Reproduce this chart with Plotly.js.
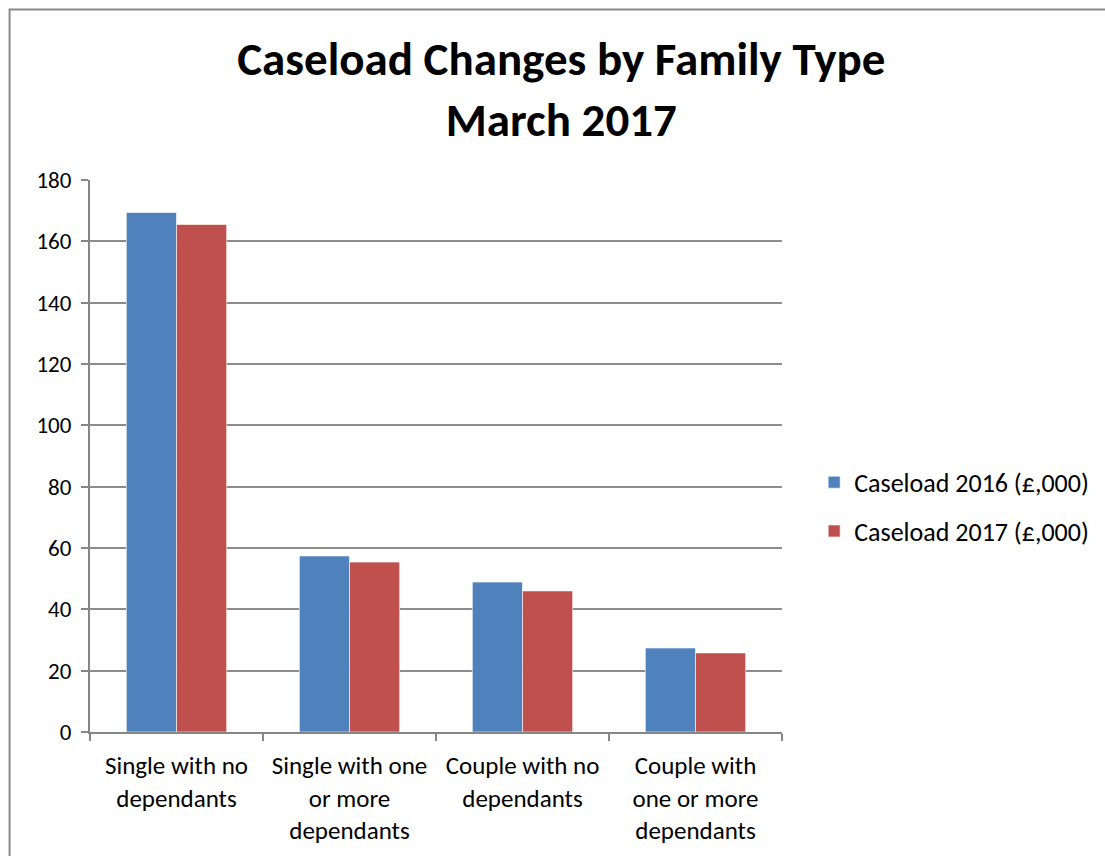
<!DOCTYPE html>
<html>
<head>
<meta charset="utf-8">
<script src="https://cdn.plot.ly/plotly-3.0.1.min.js"></script>
<style>html,body{margin:0;padding:0;background:#fff;}</style>
</head>
<body>
<div id="chart" style="width:1105px;height:856px;"></div>
<script>
const categories = [
  "Single with no<br>dependants",
  "Single with one<br>or more<br>dependants",
  "Couple with no<br>dependants",
  "Couple with<br>one or more<br>dependants"
];
const seriesNames = ["Caseload 2016 (£,000)", "Caseload 2017 (£,000)"];
const caseload2016 = [169.4, 57.4, 48.9, 27.4];
const caseload2017 = [165.5, 55.4, 46.0, 25.8];
const yTicks = [0, 20, 40, 60, 80, 100, 120, 140, 160, 180];

const FONT = "Carlito, Calibri, Lato, 'Open Sans', sans-serif";

const traces = [
  {type: "bar", name: seriesNames[0], x: categories, y: caseload2016, legendgroup: "a",
   marker: {color: "#4F81BD", line: {color: "rgba(255,255,255,0.6)", width: 1}}},
  {type: "bar", name: seriesNames[1], x: categories, y: caseload2017, legendgroup: "b",
   marker: {color: "#C0504D", line: {color: "rgba(255,255,255,0.6)", width: 1}}}
];

const layout = {
  width: 1105, height: 856,
  margin: {l: 90, r: 322, t: 180, b: 124, pad: 0},
  paper_bgcolor: "#ffffff", plot_bgcolor: "#ffffff",
  font: {family: FONT, color: "#000000", size: 22},
  title: {
    text: "<b>Caseload Changes by Family Type<br>March 2017</b>",
    font: {family: FONT, size: 47, color: "#000000"},
    xref: "container", x: 0.508, xanchor: "center",
    yref: "container", y: 0.912, yanchor: "top"
  },
  barmode: "group", bargap: 0.42, bargroupgap: 0,
  showlegend: true,
  legend: {
    x: 1.045, xanchor: "left", y: 0.408, yanchor: "middle",
    font: {family: FONT, size: 26, color: "#000"},
    tracegroupgap: 12, bgcolor: "rgba(0,0,0,0)"
  },
  xaxis: {
    type: "category",
    showline: true, linecolor: "#868686", linewidth: 2,
    ticks: "outside", tickson: "boundaries", ticklen: 7, tickcolor: "#868686", tickwidth: 2,
    tickfont: {family: FONT, size: 25, color: "#000"},
    ticklabelstandoff: 10,
    showgrid: false, zeroline: false, fixedrange: true
  },
  yaxis: {
    range: [0, 180], tickvals: yTicks, ticktext: yTicks.map(String),
    showline: true, linecolor: "#868686", linewidth: 2,
    ticks: "outside", ticklen: 7, tickcolor: "#868686", tickwidth: 2,
    tickfont: {family: FONT, size: 23, color: "#000"},
    ticklabelstandoff: 5,
    showgrid: true, gridcolor: "#8c8c8c", gridwidth: 2,
    zeroline: false, fixedrange: true
  },
  shapes: [
    {type: "path", xref: "paper", yref: "paper",
     path: "M -0.1162,-0.3 L -0.1162,1.3089 L 1.6,1.3089",
     line: {color: "#898989", width: 2}}
  ]
};

Plotly.newPlot("chart", traces, layout, {displayModeBar: false, staticPlot: true});
</script>
</body>
</html>
